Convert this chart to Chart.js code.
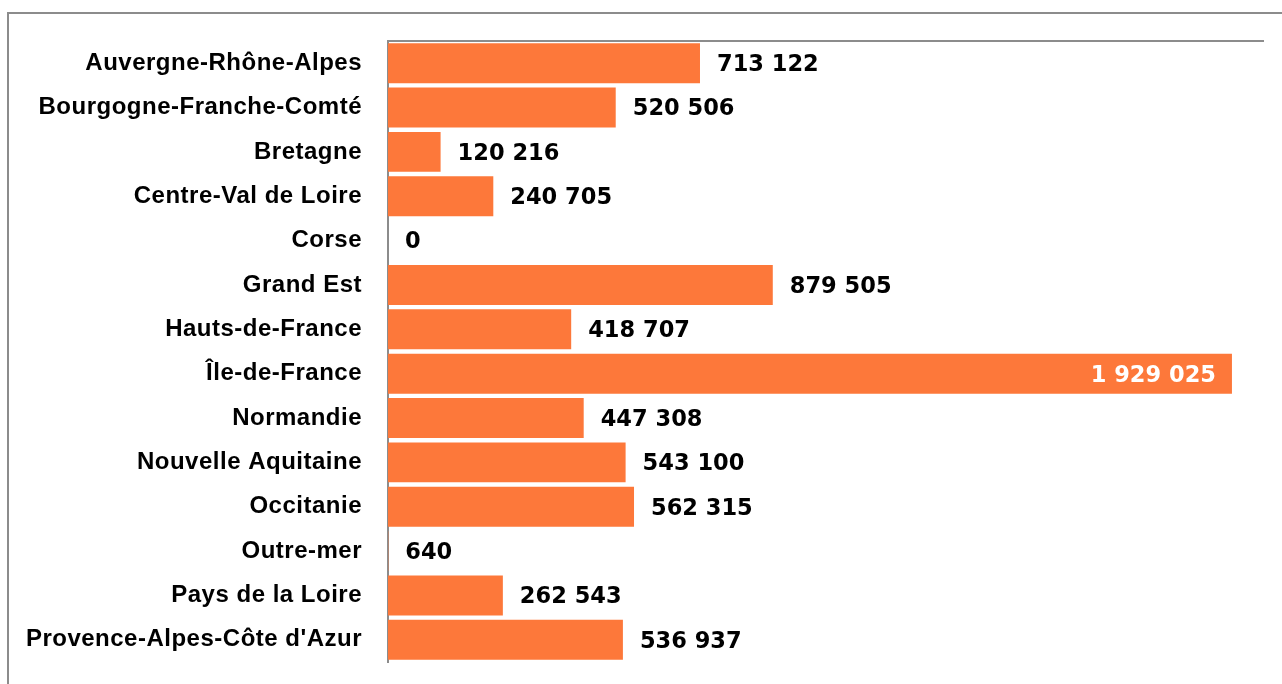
<!DOCTYPE html>
<html>
<head>
<meta charset="utf-8">
<script src="https://cdn.jsdelivr.net/npm/chart.js@4"></script>
<style>
  html, body { margin: 0; padding: 0; background: #fff; overflow: hidden; }
  #frame {
    position: absolute; left: 7px; top: 12px; width: 1400px; height: 800px;
    border-left: 2px solid #8c8c8c; border-top: 2px solid #8c8c8c;
  }
  #wrap { position: absolute; left: 0; top: 0; width: 1282px; height: 684px; }
</style>
</head>
<body>
<div id="frame"></div>
<div id="wrap"><canvas id="chart"></canvas></div>
<script>
// data
var regions = [
	"Auvergne-Rhône-Alpes",
	"Bourgogne-Franche-Comté",
	"Bretagne",
	"Centre-Val de Loire",
	"Corse",
	"Grand Est",
	"Hauts-de-France",
	"Île-de-France",
	"Normandie",
	"Nouvelle Aquitaine",
	"Occitanie",
	"Outre-mer",
	"Pays de la Loire",
	"Provence-Alpes-Côte d'Azur"
];
var values = [713122, 520506, 120216, 240705, 0, 879505, 418707, 1929025, 447308, 543100, 562315, 640, 262543, 536937];
var axisMax = 2000000;

var barColor = "#fd783a";
var lineColor = "#8c8c8c";

function formatFr(n) {
	return n.toString().replace(/\B(?=(\d{3})+(?!\d))/g, " ");
}

// slightly wider spacing for the region names
var labelSpacing = {
	id: "labelSpacing",
	beforeDraw: function(chart) {
		chart.ctx.letterSpacing = "0.5px";
	}
};

// draws the value next to each bar (inside for the longest one)
var valueLabels = {
	id: "valueLabels",
	afterDatasetsDraw: function(chart) {
		var ctx = chart.ctx;
		var meta = chart.getDatasetMeta(0);
		ctx.save();
		ctx.letterSpacing = "0px";
		ctx.font = "bold 22.5px 'DejaVu Sans'";
		ctx.textBaseline = "middle";
		meta.data.forEach(function(bar, i) {
			var txt = formatFr(values[i]);
			if (values[i] > 1500000) {
				ctx.fillStyle = "#ffffff";
				ctx.textAlign = "right";
				ctx.fillText(txt, bar.x - 16, bar.y + 2);
			} else {
				ctx.fillStyle = "#000000";
				ctx.textAlign = "left";
				ctx.fillText(txt, bar.x + 17, bar.y + 2);
			}
		});
		ctx.restore();
	}
};

var ctx = document.getElementById("chart").getContext("2d");

new Chart(ctx, {
	type: "bar",
	data: {
		labels: regions,
		datasets: [{
			data: values,
			backgroundColor: barColor,
			borderWidth: 0,
			barPercentage: 0.9,
			categoryPercentage: 1.0
		}]
	},
	options: {
		indexAxis: "y",
		responsive: true,
		maintainAspectRatio: false,
		animation: false,
		layout: { padding: { left: 0, top: 41, right: 19, bottom: 22 } },
		plugins: {
			legend: { display: false },
			tooltip: { enabled: false }
		},
		scales: {
			x: {
				position: "top",
				min: 0,
				max: axisMax,
				ticks: { display: false },
				grid: { display: false, drawTicks: false },
				border: { display: true, color: lineColor, width: 2 }
			},
			y: {
				ticks: {
					color: "#000",
					padding: 26,
					font: { family: "'Liberation Sans', Arial, sans-serif", size: 24, weight: "bold" }
				},
				grid: { display: false, drawTicks: false },
				border: { display: true, color: lineColor, width: 2 },
				afterFit: function(scale) {
					scale.width = 388;
					scale.paddingTop = 0;
					scale.paddingBottom = 0;
				}
			}
		}
	},
	plugins: [labelSpacing, valueLabels]
});
</script>
</body>
</html>
